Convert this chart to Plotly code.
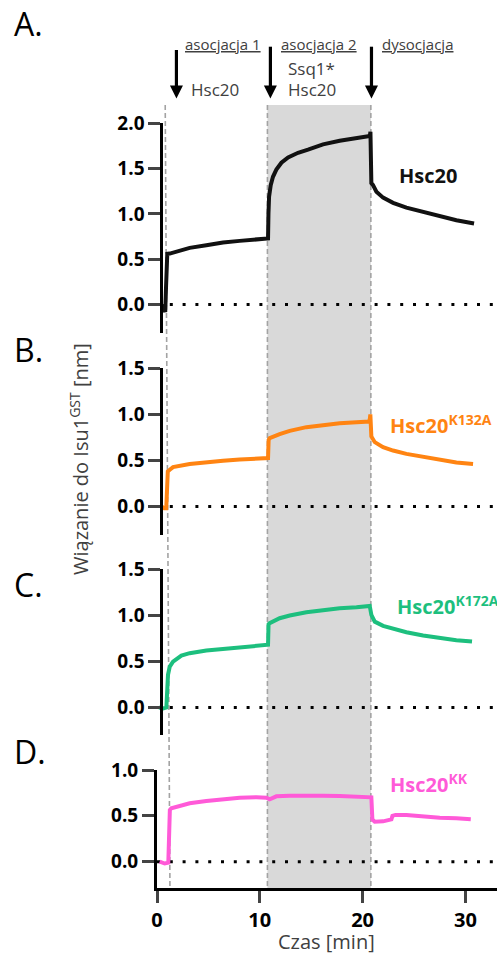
import plotly.graph_objects as go

# ---------------- data ----------------
t_A = [0.5, 0.7, 0.8, 0.88, 0.92, 1.0, 1.24, 3.18, 4.8, 6.42, 8.04, 9.67, 10.64, 10.8, 10.84, 10.9,
       11.06, 11.28, 11.61, 12.1, 12.75, 13.72, 14.69, 16.15, 17.77, 19.4, 20.53, 20.7, 20.76, 20.85,
       21.0, 21.34, 21.99, 22.96, 24.26, 25.88, 27.5, 29.12, 30.84]
v_A = [0.0, -0.06, -0.08, 0.2, 0.5, 0.56, 0.563, 0.626, 0.655, 0.685, 0.703, 0.718, 0.725, 0.73, 1.0, 1.19,
       1.318, 1.41, 1.49, 1.565, 1.624, 1.675, 1.71, 1.768, 1.808, 1.834, 1.852, 1.86, 1.907, 1.34,
       1.32, 1.245, 1.18, 1.123, 1.07, 1.023, 0.976, 0.93, 0.895]

t_B = [0.43, 0.7, 0.9, 0.97, 1.05, 1.24, 1.56, 3.18, 4.8, 6.42, 8.04, 9.67, 10.8, 10.86, 10.96, 11.93,
       12.91, 14.53, 16.15, 17.77, 19.4, 20.62, 20.7, 20.75, 20.85, 21.18, 21.99, 22.96, 24.26, 25.88,
       27.5, 29.12, 30.74]
v_B = [0.0, -0.02, -0.02, 0.2, 0.38, 0.398, 0.427, 0.46, 0.481, 0.496, 0.51, 0.517, 0.525, 0.723, 0.741, 0.785,
       0.821, 0.861, 0.886, 0.904, 0.915, 0.922, 0.95, 1.0, 0.76, 0.698, 0.644, 0.607, 0.571, 0.536,
       0.503, 0.477, 0.46]

t_C = [0.2, 0.6, 0.91, 0.97, 1.07, 1.24, 1.56, 2.37, 3.18, 4.8, 6.42, 8.04, 9.67, 10.64, 10.8, 10.85,
       10.96, 11.93, 12.91, 14.53, 16.15, 17.77, 19.4, 20.69, 20.85, 21.18, 21.99, 22.96, 24.26, 25.88,
       27.5, 29.12, 30.64]
v_C = [0.0, -0.01, 0.0, 0.2, 0.354, 0.444, 0.498, 0.563, 0.589, 0.617, 0.635, 0.649, 0.664, 0.671, 0.68, 0.90,
       0.913, 0.967, 0.996, 1.032, 1.057, 1.075, 1.087, 1.10, 1.003, 0.93, 0.884, 0.852, 0.816, 0.78,
       0.751, 0.729, 0.714]

t_D = [0.26, 0.75, 1.1, 1.17, 1.25, 1.39, 2.21, 3.18, 4.8, 6.42, 8.04, 9.67, 10.64, 10.96, 11.3, 11.61,
       12.91, 14.53, 16.15, 17.77, 19.4, 20.85, 20.95, 21.18, 21.99, 22.8, 22.9, 23.2, 24.26, 25.88,
       27.5, 29.12, 30.52]
v_D = [0.0, -0.02, -0.01, 0.3, 0.564, 0.582, 0.607, 0.637, 0.662, 0.684, 0.698, 0.702, 0.698, 0.68, 0.70, 0.713,
       0.72, 0.724, 0.72, 0.716, 0.709, 0.702, 0.46, 0.436, 0.44, 0.462, 0.50, 0.51, 0.509, 0.491,
       0.48, 0.473, 0.462]

panel_letters = ["A.", "B.", "C.", "D."]
series_labels = ["<b>Hsc20</b>", "<b>Hsc20<sup>K132A</sup></b>", "<b>Hsc20<sup>K172A</sup></b>", "<b>Hsc20<sup>KK</sup></b>"]
series_colors = ["#111111", "#ff8412", "#1dbf7e", "#ff5ad8"]
y_ranges = [[-0.31, 2.0], [-0.31, 1.5], [-0.297, 1.5], [-0.287, 1.0]]
y_ticks = [[0, 0.5, 1.0, 1.5, 2.0], [0, 0.5, 1.0, 1.5], [0, 0.5, 1.0, 1.5], [0, 0.5, 1.0]]
x_ticks = [0, 10, 20, 30]
x_range = [0, 33.07]

# phase boundaries [min]
phase_start_top, phase_start_bottom = 0.8, 1.26
assoc2_start = 10.74
dissoc_start = 20.8
arrow_times = [1.89, 11.03, 20.86]
phase_titles = ["asocjacja 1", "asocjacja 2", "dysocjacja"]
phase_contents = [["Hsc20"], ["Ssq1*", "Hsc20"], []]

# ---------------- layout helpers ----------------
W, H = 497, 955
ML, MR, MT, MB = 157, 0, 0, 67
PW, PH = W - ML - MR, H - MT - MB


def py(p):  # pixel row -> paper y
    return (PH - p) / PH


def px(p):  # pixel column -> paper x
    return (p - ML) / PW


def dx(pixels):  # pixel width -> minutes
    return pixels * (x_range[1] - x_range[0]) / PW


domains_px = [(123.3, 332.7), (368.3, 535.0), (569.0, 735.0), (770.0, 888.0)]
label_pos = [(396.7, 175), (388.3, 424), (394.5, 605), (388.3, 783)]
letter_pos = [23.3, 349.5, 584, 751]

FONT = "Open Sans"
series = [(t_A, v_A), (t_B, v_B), (t_C, v_C), (t_D, v_D)]

fig = go.Figure()
for i, (t, v) in enumerate(series):
    yname = "y" if i == 0 else f"y{i+1}"
    fig.add_trace(go.Scatter(x=t, y=v, mode="lines", xaxis="x", yaxis=yname,
                             line=dict(color=series_colors[i], width=4), showlegend=False,
                             hoverinfo="skip"))

layout = dict(
    template="none",
    width=W, height=H,
    margin=dict(l=ML, r=MR, t=MT, b=MB, pad=0, autoexpand=False),
    paper_bgcolor="white", plot_bgcolor="rgba(0,0,0,0)",
    font=dict(family=FONT, color="black"),
    showlegend=False,
    xaxis=dict(range=x_range, anchor="y4", tickvals=x_ticks, ticks="outside", ticklen=12, tickwidth=3,
               showline=True, linewidth=3, linecolor="black", showgrid=False, zeroline=False,
               automargin=False, tickfont=dict(size=20, weight="bold", family=FONT), fixedrange=True),
)
for i in range(4):
    key = "yaxis" if i == 0 else f"yaxis{i+1}"
    top, bot = domains_px[i]
    ax = dict(domain=[py(bot), py(top)], range=y_ranges[i], tickvals=y_ticks[i], tickformat=".1f",
              ticks="outside", ticklen=12, tickwidth=3, showline=True, linewidth=3, linecolor="black",
              showgrid=False, zeroline=False, automargin=False, fixedrange=True,
              tickfont=dict(size=19, weight="bold", family=FONT))
    if i < 3:
        ax.update(anchor="free", position=px(161.3))
    else:
        ax.update(anchor="x")
    layout[key] = ax
fig.update_layout(**layout)

shapes = []
# grey shaded second association phase
shapes.append(dict(type="rect", xref="x", yref="paper", x0=assoc2_start, x1=dissoc_start,
                   y0=0, y1=py(105), fillcolor="#d9d9d9", line=dict(width=0), layer="below"))
# dashed phase boundaries
dash_style = dict(color="#a3a3a3", width=1.6, dash="5px,3px")
shapes.append(dict(type="line", xref="x", yref="paper", x0=phase_start_top, x1=phase_start_bottom,
                   y0=py(105), y1=0, line=dash_style, layer="below"))
for xv in (assoc2_start, dissoc_start):
    shapes.append(dict(type="line", xref="x", yref="paper", x0=xv, x1=xv, y0=py(105), y1=0,
                       line=dash_style, layer="below"))
# dotted zero lines
for i in range(4):
    yname = "y" if i == 0 else f"y{i+1}"
    shapes.append(dict(type="line", xref="x", yref=yname, x0=x_range[0], x1=x_range[1], y0=0, y1=0,
                       line=dict(color="black", width=3, dash="3px,9.8px"), layer="below"))
# arrows
arrow_top = [50, 46.7, 46.7]
for xa, top in zip(arrow_times, arrow_top):
    shapes.append(dict(type="line", xref="x", yref="paper", x0=xa, x1=xa, y0=py(top), y1=py(88),
                       line=dict(color="black", width=3.2)))
    hw = dx(6.5)
    shapes.append(dict(type="path", xref="x", yref="paper",
                       path=f"M {xa-hw},{py(85.5)} L {xa+hw},{py(85.5)} L {xa},{py(98.5)} Z",
                       fillcolor="black", line=dict(width=0)))
fig.update_layout(shapes=shapes)

ann = []
grey = "#404040"
# phase titles (underlined)
title_x = [182.7, 279.3, 380.0]
for txt, xp in zip(phase_titles, title_x):
    ann.append(dict(text=f"<u>{txt}</u>", x=px(xp), y=py(44), xref="paper", yref="paper",
                    xanchor="left", yanchor="middle", showarrow=False,
                    font=dict(size=15, color=grey, family=FONT)))
content_pos = [[(189, 89.3)], [(285.7, 68), (286, 89.3)], []]
for items, poss in zip(phase_contents, content_pos):
    for txt, (xp, yp) in zip(items, poss):
        ann.append(dict(text=txt, x=px(xp), y=py(yp), xref="paper", yref="paper",
                        xanchor="left", yanchor="middle", showarrow=False,
                        font=dict(size=17, color=grey, family=FONT)))
# panel letters
for let, yp in zip(panel_letters, letter_pos):
    ann.append(dict(text=let, x=px(12), y=py(yp), xref="paper", yref="paper",
                    xanchor="left", yanchor="middle", showarrow=False,
                    font=dict(size=32, color="black", family=FONT)))
# series labels
for lab, col, (xp, yp) in zip(series_labels, series_colors, label_pos):
    ann.append(dict(text=lab, x=px(xp), y=py(yp), xref="paper", yref="paper",
                    xanchor="left", yanchor="middle", showarrow=False,
                    font=dict(size=20, color=col, family=FONT)))
# axis titles
ann.append(dict(text="Wiązanie do Isu1<sup>GST</sup> [nm]", x=px(79), y=py(459), xref="paper", yref="paper",
                xanchor="center", yanchor="middle", textangle=-90, showarrow=False,
                font=dict(size=20, color=grey, family=FONT)))
ann.append(dict(text="Czas [min]", x=px(326), y=py(942), xref="paper", yref="paper",
                xanchor="center", yanchor="middle", showarrow=False,
                font=dict(size=20, color=grey, family=FONT)))
fig.update_layout(annotations=ann)

fig.write_html("out.html", config={"displayModeBar": False},
               post_script="document.body.style.margin='0';document.body.style.padding='0';")
